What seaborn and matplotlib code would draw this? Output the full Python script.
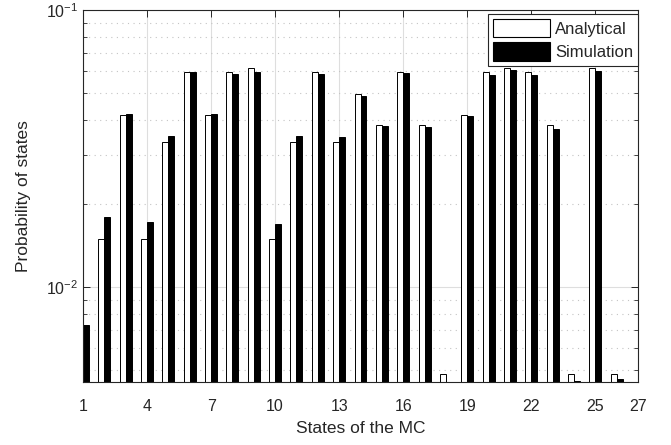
import numpy as np
import pandas as pd
import matplotlib
matplotlib.use("Agg")
import matplotlib.pyplot as plt
from matplotlib.patches import Patch
from matplotlib.ticker import LogLocator, NullFormatter, FixedLocator
import seaborn as sns

# values
states = list(range(1, 27))
analytical = [0.0070, 0.0149, 0.0418, 0.0149, 0.0335, 0.0596, 0.0418, 0.0596, 0.0618,
              0.0149, 0.0335, 0.0596, 0.0335, 0.0498, 0.0385, 0.0596, 0.0385, 0.00484,
              0.0418, 0.0596, 0.0618, 0.0596, 0.0385, 0.00484, 0.0618, 0.00484]
simulation = [0.0073, 0.0179, 0.0423, 0.0171, 0.0350, 0.0596, 0.0422, 0.0587, 0.0596,
              0.0169, 0.0350, 0.0587, 0.0348, 0.0491, 0.0380, 0.0590, 0.0377, 0.0045,
              0.0415, 0.0582, 0.0607, 0.0582, 0.0371, 0.00458, 0.0604, 0.00466]
series_names = ["Analytical", "Simulation"]
x_ticks = [1, 4, 7, 10, 13, 16, 19, 22, 25, 27]

df = pd.DataFrame({
    "state": states * 2,
    "prob": analytical + simulation,
    "type": [series_names[0]] * len(states) + [series_names[1]] * len(states),
})

sns.set_style("ticks")
plt.rcParams["font.family"] = ["Liberation Sans", "DejaVu Sans"]
plt.rcParams["axes.edgecolor"] = "#262626"

fig = plt.figure(figsize=(6.71, 4.45), dpi=100)
ax = fig.add_axes([83 / 671, 1 - 382 / 445, (638 - 83) / 671, (382 - 10) / 445])

sns.barplot(data=df, x="state", y="prob", hue="type", native_scale=True,
            palette={"Analytical": "white", "Simulation": "black"},
            width=0.56, dodge=True, errorbar=None, saturation=1,
            edgecolor="black", linewidth=0.7, legend=False, ax=ax)

ax.set_yscale("log")
ax.set_ylim(0.00454, 0.1)
ax.set_xlim(1, 27)
ax.xaxis.set_major_locator(FixedLocator(x_ticks))
ax.set_xticklabels([str(t) for t in x_ticks])
ax.yaxis.set_major_locator(LogLocator(base=10, numticks=10))
ax.yaxis.set_minor_locator(LogLocator(base=10, subs=np.arange(2, 10), numticks=10))
ax.yaxis.set_minor_formatter(NullFormatter())

# MATLAB-like grid: light solid major, dotted minor on y
ax.set_axisbelow(True)
ax.grid(True, which="major", axis="both", color="#dedede", linewidth=0.8, linestyle="-")
ax.grid(True, which="minor", axis="y", color="#c4c4c4", linewidth=0.8, linestyle=(0, (1, 4)))

for s in ax.spines.values():
    s.set_visible(True)
    s.set_linewidth(0.8)
    s.set_color("#262626")
ax.tick_params(which="both", direction="in", top=True, right=True, colors="#262626",
               labelcolor="#262626", labelsize=11.5)
ax.tick_params(which="major", length=5, width=0.7)
ax.tick_params(which="minor", length=3, width=0.6)
ax.tick_params(axis="x", pad=12)

ax.set_xlabel("States of the MC", fontsize=12.5, color="#262626", labelpad=5)
ax.set_ylabel("Probability of states", fontsize=12.5, color="#262626", labelpad=11)

handles = [Patch(facecolor="white", edgecolor="black", linewidth=0.8, label=series_names[0]),
           Patch(facecolor="black", edgecolor="black", linewidth=0.8, label=series_names[1])]
leg = ax.legend(handles=handles, loc="upper right", bbox_to_anchor=(1.0, 0.99),
                borderaxespad=0, fontsize=12, handlelength=3.4, handleheight=1.35,
                handletextpad=0.3, labelspacing=0.3, borderpad=0.3,
                fancybox=False, framealpha=1, edgecolor="#262626")
leg.get_frame().set_linewidth(0.8)

fig.savefig("out.png", dpi=100)
